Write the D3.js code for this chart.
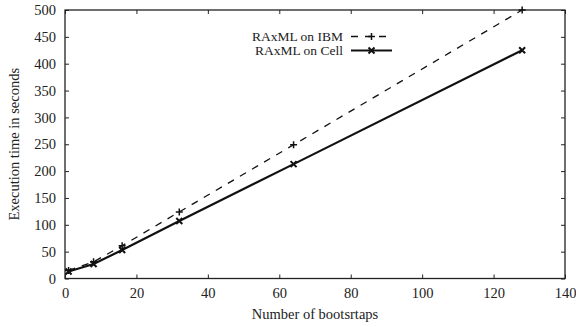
<!DOCTYPE html>
<html>
<head>
<meta charset="utf-8">
<script src="https://cdn.jsdelivr.net/npm/d3@7"></script>
<style>
  body { margin: 0; background: #fff; }
  text { font-family: "Liberation Serif", "DejaVu Serif", serif; fill: #222; }
</style>
</head>
<body>
<div id="chart"></div>
<script>
/* DATA */
const bootstraps = [1, 8, 16, 32, 64, 128];
const ibmTimes = [15, 31, 61, 124, 249, 500];
const cellTimes = [13, 27, 53, 107, 213, 425];
const seriesNames = ["RAxML on IBM", "RAxML on Cell"];
const xTicks = [0, 20, 40, 60, 80, 100, 120, 140];
const yTicks = [0, 50, 100, 150, 200, 250, 300, 350, 400, 450, 500];

const width = 576, height = 327,
  margin = { top: 10, right: 11, bottom: 48, left: 65 };
const fontSize = "14.5px";

const svg = d3.select("#chart").append("svg")
  .attr("width", width)
  .attr("height", height);

/* SCALES */
const xScale = d3.scaleLinear().domain([0, 140]).range([margin.left, width - margin.right]);
const yScale = d3.scaleLinear().domain([0, 500]).range([height - margin.bottom - 0.5, margin.top]);

const x0 = xScale.range()[0], x1 = xScale.range()[1];
const y0 = yScale.range()[0], y1 = yScale.range()[1];

/* AXES (ticks inward on all four sides) */
const tickLen = 4;
svg.append("g")
  .attr("transform", `translate(0,${y0})`)
  .call(d3.axisBottom(xScale).tickValues(xTicks).tickSize(-tickLen).tickPadding(9))
  .call(g => g.select(".domain").remove());
svg.append("g")
  .attr("transform", `translate(0,${y1})`)
  .call(d3.axisTop(xScale).tickValues(xTicks).tickSize(-tickLen).tickFormat(""))
  .call(g => g.select(".domain").remove());
svg.append("g")
  .attr("transform", `translate(${x0},0)`)
  .call(d3.axisLeft(yScale).tickValues(yTicks).tickSize(-tickLen).tickPadding(9))
  .call(g => g.select(".domain").remove());
svg.append("g")
  .attr("transform", `translate(${x1},0)`)
  .call(d3.axisRight(yScale).tickValues(yTicks).tickSize(-tickLen).tickFormat(""))
  .call(g => g.select(".domain").remove());

svg.selectAll(".tick line").attr("stroke", "#222").attr("stroke-width", 1);
svg.selectAll(".tick text").style("font-size", fontSize).attr("fill", "#222");

// frame
svg.append("rect")
  .attr("x", x0).attr("y", y1)
  .attr("width", x1 - x0).attr("height", y0 - y1)
  .attr("fill", "none").attr("stroke", "#222").attr("stroke-width", 1.3);

/* LABELS */
svg.append("text")
  .attr("x", (x0 + x1) / 2).attr("y", 319)
  .attr("text-anchor", "middle")
  .style("font-size", fontSize)
  .text("Number of bootsrtaps");
svg.append("text")
  .attr("transform", `translate(19,${(y0 + y1) / 2}) rotate(-90)`)
  .attr("text-anchor", "middle")
  .style("font-size", fontSize)
  .text("Execution time in seconds");

/* LINES */
const ibmData = bootstraps.map((b, i) => ({ x: b, y: ibmTimes[i] }));
const cellData = bootstraps.map((b, i) => ({ x: b, y: cellTimes[i] }));

const lineGen = d3.line().x(d => xScale(d.x)).y(d => yScale(d.y));

svg.append("path")
  .datum(ibmData)
  .attr("fill", "none").attr("stroke", "#111")
  .attr("stroke-width", 1.3)
  .attr("stroke-dasharray", "7,7")
  .attr("d", lineGen);

svg.append("path")
  .datum(cellData)
  .attr("fill", "none").attr("stroke", "#111")
  .attr("stroke-width", 2.2)
  .attr("d", lineGen);

/* MARKERS */
const plus = (g, cx, cy, s) => g.append("path")
  .attr("d", `M${cx - s},${cy}H${cx + s}M${cx},${cy - s}V${cy + s}`)
  .attr("stroke", "#111").attr("stroke-width", 1.5).attr("fill", "none");
const cross = (g, cx, cy, s) => g.append("path")
  .attr("d", `M${cx - s},${cy - s}L${cx + s},${cy + s}M${cx - s},${cy + s}L${cx + s},${cy - s}`)
  .attr("stroke", "#111").attr("stroke-width", 2).attr("fill", "none");

const marks = svg.append("g");
ibmData.forEach(d => plus(marks, xScale(d.x), yScale(d.y), 3.5));
cellData.forEach(d => cross(marks, xScale(d.x), yScale(d.y), 3));

/* LEGEND */
const legend = svg.append("g");
const legX = 343, legY = [36.5, 50.5];
seriesNames.forEach((name, i) => {
  legend.append("text")
    .attr("x", legX).attr("y", legY[i] + 4.5)
    .attr("text-anchor", "end")
    .style("font-size", "13.5px")
    .text(name);
});
legend.append("path")
  .attr("d", `M351,${legY[0]}H392`)
  .attr("stroke", "#111").attr("stroke-width", 1.3).attr("stroke-dasharray", "7,7");
plus(legend, 371.5, legY[0], 3.5);
legend.append("path")
  .attr("d", `M351,${legY[1]}H392`)
  .attr("stroke", "#111").attr("stroke-width", 2.2);
cross(legend, 371.5, legY[1], 3);
</script>
</body>
</html>
